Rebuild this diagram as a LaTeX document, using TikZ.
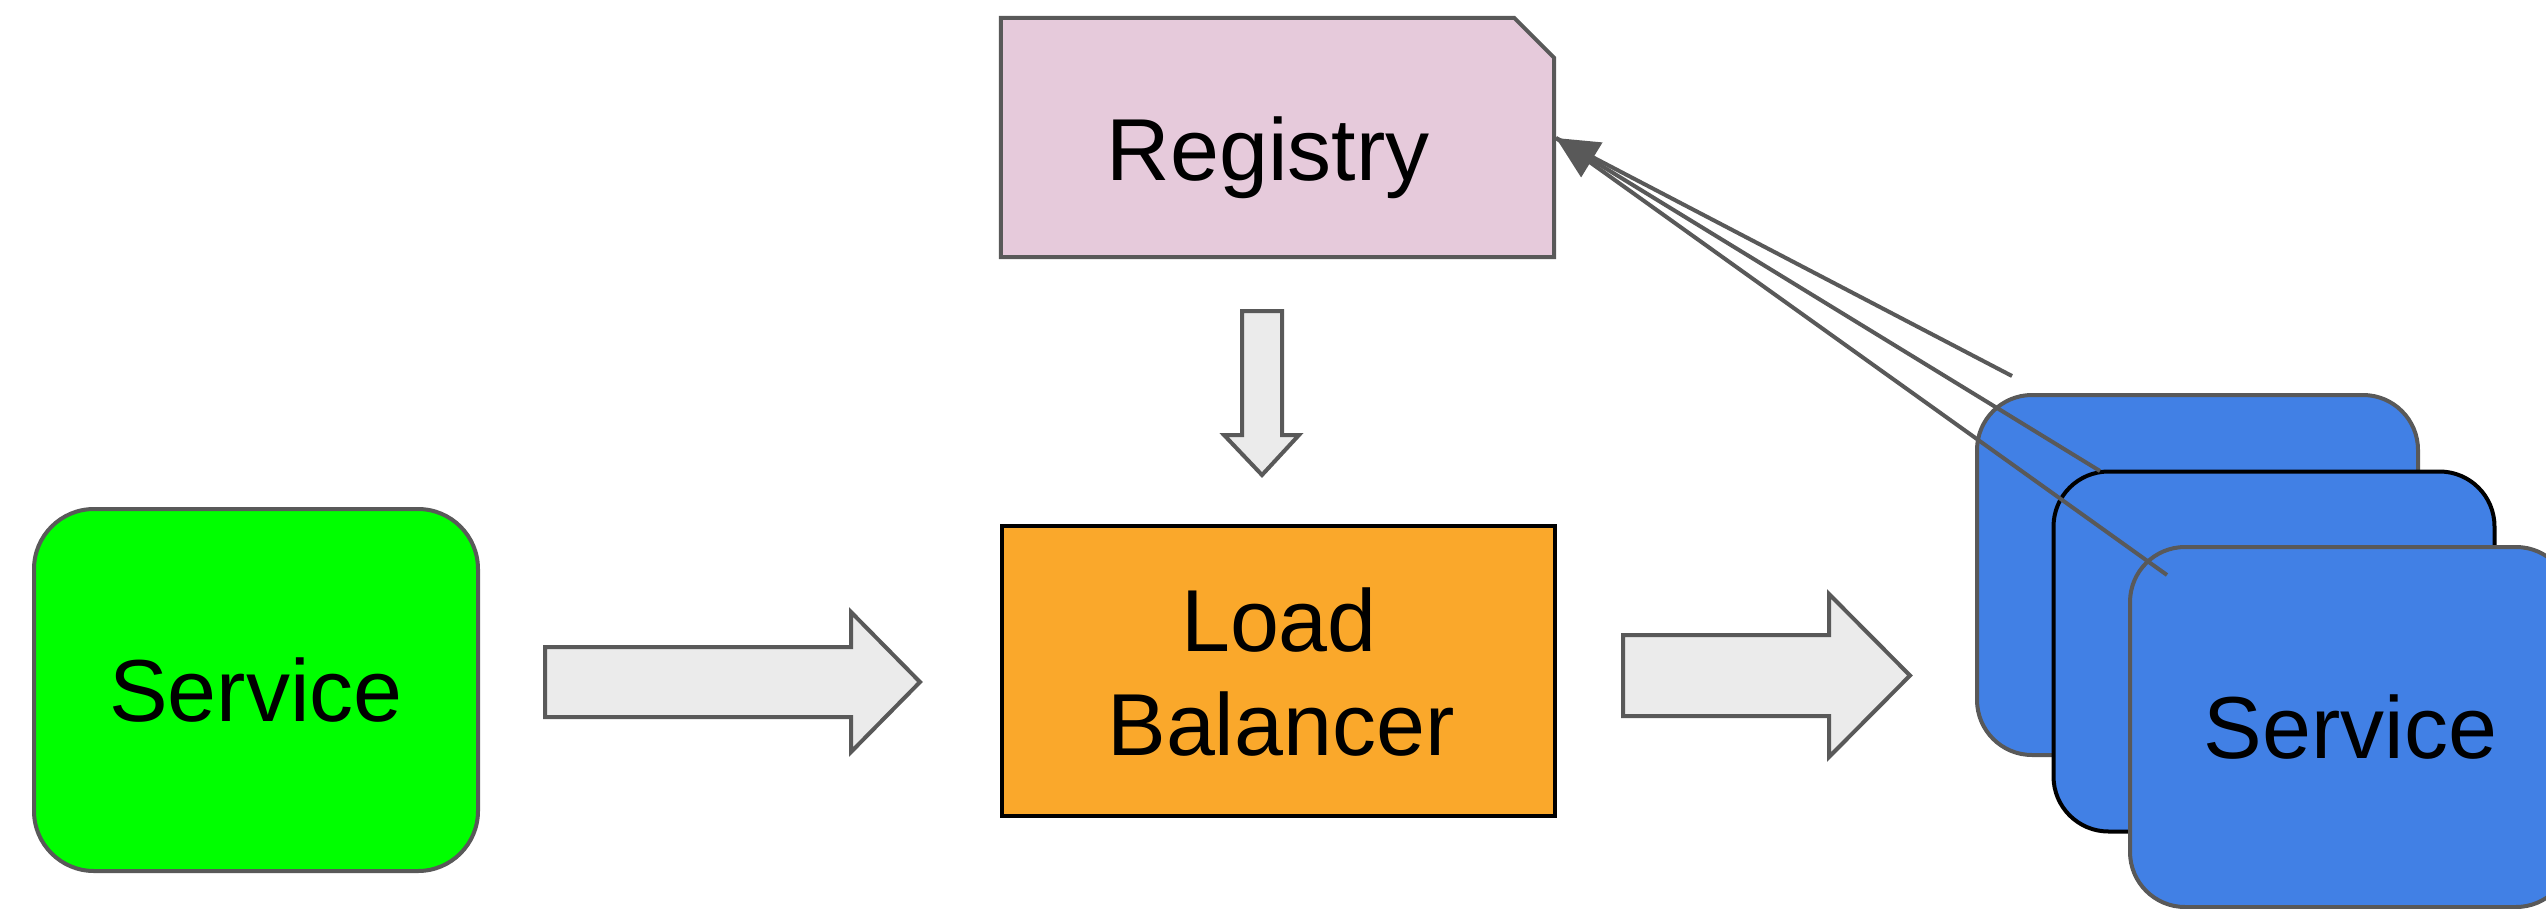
\documentclass[tikz,border=0pt]{standalone}
\usepackage{fontspec}
\setmainfont{Liberation Sans}
\usetikzlibrary{arrows.meta}
\definecolor{edgegray}{HTML}{595959}
\definecolor{svcgreen}{HTML}{00FF00}
\definecolor{svcblue}{HTML}{4180E5}
\definecolor{lborange}{HTML}{FAA82B}
\definecolor{regpink}{HTML}{E6CADB}
\definecolor{arrowfill}{HTML}{EBEBEB}
\tikzset{
  bigtext/.style={font=\fontsize{88}{105}\selectfont, text=black},
  svcbox/.style={bigtext, rectangle, rounded corners=55pt, line width=4pt, minimum width=441pt, minimum height=360pt, fill=svcblue, draw=edgegray, inner sep=0pt},
  blockarrow/.style={fill=arrowfill, draw=edgegray, line width=4pt, line join=miter},
  reglink/.style={draw=edgegray, line width=4pt},
}
\begin{document}
\begin{tikzpicture}[x=1pt,y=-1pt]
\useasboundingbox (0,0) rectangle (2546,908);
% left service
\node[bigtext, rectangle, rounded corners=60pt, line width=4pt, draw=edgegray, fill=svcgreen,
      minimum width=444pt, minimum height=362pt, inner sep=0pt] (src) at (256,690) {Service};
% registry
\node[rectangle, minimum width=553pt, minimum height=239pt, inner sep=0pt] (reg) at (1277.5,137.5) {};
\draw[fill=regpink, draw=edgegray, line width=4pt]
  (reg.south west) -- (reg.north west) -- ([xshift=-40pt]reg.north east)
  -- ([yshift=-40pt]reg.north east) -- (reg.south east) -- cycle;
\node[bigtext, anchor=base, inner sep=0pt] (regtext) at (1268,180) {Registry};
% load balancer
\node[rectangle, draw=black, line width=4pt, fill=lborange, minimum width=553pt, minimum height=290pt, inner sep=0pt] (lb) at (1278.5,671) {};
\node[bigtext, anchor=base, inner sep=0pt] (lbt1) at (1279,651) {Load};
\node[bigtext, anchor=base, inner sep=0pt] (lbt2) at (1281,755) {Balancer};
% block arrows
\draw[blockarrow] (545,647) -- (851,647) -- (851,612) -- (920,682) -- (851,752) -- (851,717) -- (545,717) -- cycle;
\draw[blockarrow] (1623,635) -- (1829,635) -- (1829,594) -- (1910,675.5) -- (1829,757) -- (1829,716) -- (1623,716) -- cycle;
\draw[blockarrow] (1242,311) -- (1282,311) -- (1282,435) -- (1299,435) -- (1262,475) -- (1224,435) -- (1242,435) -- cycle;
% service stack
\node[svcbox] (back) at (2197.5,575) {};
\node[svcbox, draw=black] (mid) at (2274,651.5) {};
\node[svcbox] (front) at (2350.5,727) {Service};
% registry links
\coordinate (regtip) at (1556,138);
\coordinate (e1) at (2012,376);
\coordinate (e2) at (2100,471);
\coordinate (e3) at (2167,575);
\draw[reglink] (e1) -- (regtip);
\draw[reglink] (e3) -- (regtip);
\draw[reglink, -{Triangle[length=42pt,width=40pt]}, fill=edgegray] (e2) -- (regtip);
\end{tikzpicture}
\end{document}
